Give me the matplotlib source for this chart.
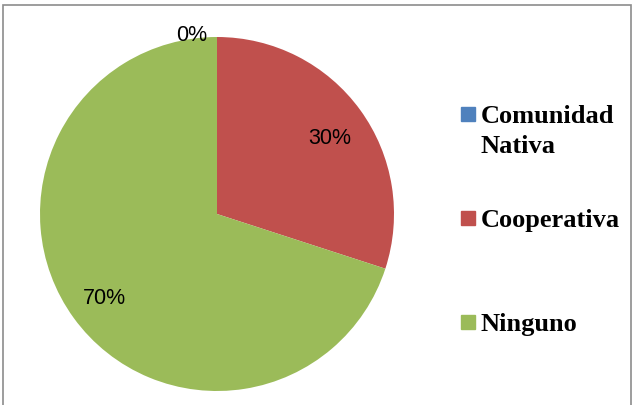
import matplotlib.pyplot as plt
from matplotlib.patches import Rectangle

# data
categories = ["Comunidad\nNativa", "Cooperativa", "Ninguno"]
values = [0, 30, 70]
colors = ["#4F81BD", "#C0504D", "#9BBB59"]

W, H = 634, 405
fig = plt.figure(figsize=(W / 100, H / 100), dpi=100)

# frame around the chart area
fig.patches.append(Rectangle((3 / W, -0.05), 628 / W, 1.05 - 5 / H,
                             transform=fig.transFigure, fill=False,
                             edgecolor="#8c8c8c", linewidth=1.2))

# pie: centre ~(217, 214) px, radius ~177 px
cx, cy, r = 217, 214, 177
ax = fig.add_axes([(cx - r) / W, 1 - (cy + r) / H, 2 * r / W, 2 * r / H])
wedges, texts, autotexts = ax.pie(
    values, colors=colors, startangle=90, counterclock=False,
    autopct="%.0f%%", pctdistance=0.785, radius=1,
    textprops=dict(fontsize=15.5, family="Liberation Sans", color="black"),
)
ax.set_xlim(-1, 1)
ax.set_ylim(-1, 1)
ax.set_aspect("equal")
for t in autotexts:
    t.set_va("center_baseline")
px, py = autotexts[1].get_position()
autotexts[1].set_position((px, py - 0.02))

# 0% label sits above the rim (best fit)
autotexts[0].set_position((-0.144, 1.025))

# legend, drawn by hand so it matches the Excel layout
fx = lambda px: px / W
fy = lambda py: 1 - py / H
legend_baselines = [123, 227, 331]
line_gap = 30
for lab, col, yb in zip(categories, colors, legend_baselines):
    fig.patches.append(Rectangle((fx(461), fy(yb - 2)), 14 / W, 14 / H,
                                 transform=fig.transFigure, color=col))
    for i, line in enumerate(lab.split("\n")):
        fig.text(fx(481), fy(yb + i * line_gap), line, ha="left",
                 va="baseline", family="Liberation Serif", weight="bold",
                 fontsize=19)

fig.savefig("out.png", dpi=100)
